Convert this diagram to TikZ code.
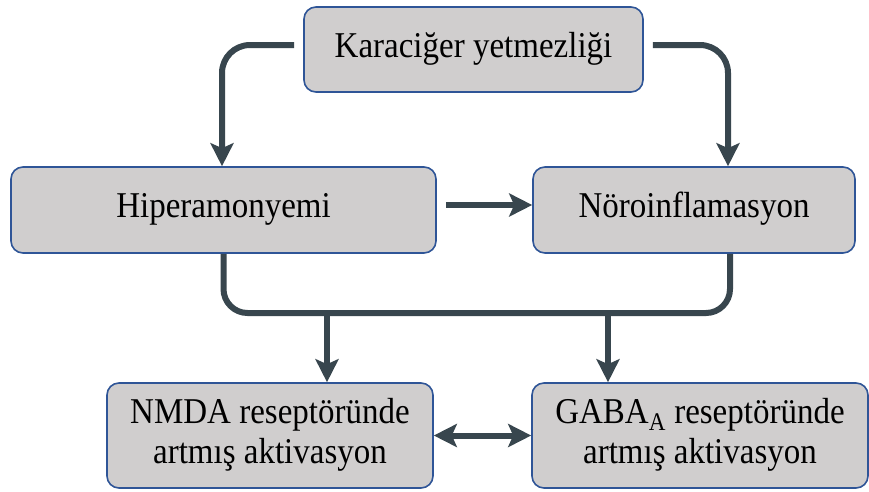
\documentclass[tikz,border=0pt]{standalone}
\usepackage{fontspec}
\setmainfont{Liberation Serif}
\usetikzlibrary{arrows.meta}
\definecolor{boxfill}{RGB}{208,206,206}
\definecolor{boxline}{RGB}{47,85,151}
\definecolor{arrowc}{RGB}{56,70,78}
\newcommand{\tallt}[1]{\scalebox{1}[1.1]{\begin{tabular}{@{}c@{}}#1\end{tabular}}}
\begin{document}
\begin{tikzpicture}[x=1pt,y=-1pt,
  box/.style={draw=boxline,line width=1.6pt,fill=boxfill,rounded corners=12pt,inner sep=0pt,align=center,font=\fontsize{33}{36}\selectfont},
  conn/.style={draw=arrowc,line width=6pt},
  arr/.style={conn,-{Stealth[length=23pt,width=23pt,inset=5pt]}},
  darr/.style={conn,{Stealth[length=23pt,width=23pt,inset=5pt]}-{Stealth[length=23pt,width=23pt,inset=5pt]}}]
\useasboundingbox[fill=white] (0,0) rectangle (869,491);
\node[box,minimum width=339pt,minimum height=85pt] (kc) at (473.5,49.5) {\tallt{Karaciğer yetmezliği}};
\node[box,minimum width=425pt,minimum height=86pt] (hp) at (223.5,210) {\tallt{Hiperamonyemi}};
\node[box,minimum width=322pt,minimum height=86pt] (ni) at (694,210) {\tallt{Nöroinflamasyon}};
\node[box,minimum width=326pt,minimum height=105pt] (nm) at (270,435.5) {\tallt{NMDA reseptöründe\\artmış aktivasyon}};
\node[box,minimum width=336pt,minimum height=105pt] (gb) at (700,435.5) {\tallt{GABA\textsubscript{A} reseptöründe\\artmış aktivasyon}};
\coordinate (jn) at (473,313);
\draw[arr,rounded corners=28pt] ([xshift=-9pt,yshift=4.5pt]kc.west) -| ([xshift=-1.5pt]hp.north);
\draw[arr,rounded corners=28pt] ([xshift=9pt,yshift=4.5pt]kc.east) -| ([xshift=34pt]ni.north);
\draw[arr] ([xshift=9pt,yshift=5pt]hp.east) -- ([yshift=5pt]ni.west);
\draw[conn,rounded corners=24pt] (hp.south) |- (jn) -| ([xshift=36pt]ni.south);
\draw[arr] ([xshift=57pt]nm.north |- jn) -- ([xshift=57pt]nm.north);
\draw[arr] ([xshift=-92pt]gb.north |- jn) -- ([xshift=-92pt]gb.north);
\draw[darr] (nm.east) -- (gb.west);
\end{tikzpicture}
\end{document}
